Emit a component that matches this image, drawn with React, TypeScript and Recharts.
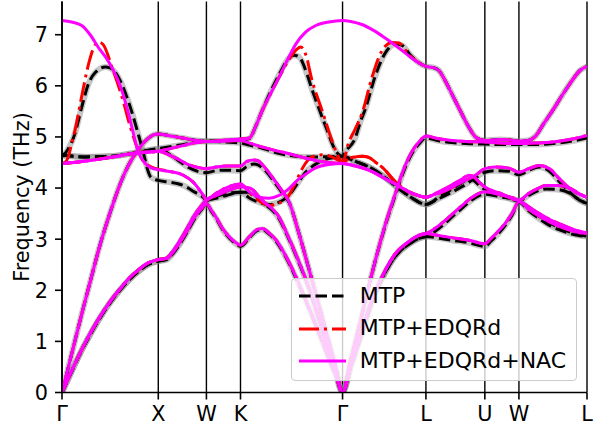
import React from 'react';
import { LineChart, Line, XAxis, YAxis, CartesianGrid, Legend } from 'recharts';

type Pt = [number, number];

// high-symmetry path (cumulative distance, 2π/a units)
const kTicks = [0, 1, 1.5, 1.854, 2.914, 3.78, 4.392, 4.746, 5.453];
const kLabels = ['Γ', 'X', 'W', 'K', 'Γ', 'L', 'U', 'W', 'L'];
const freqTicks = [0, 1, 2, 3, 4, 5, 6, 7];
const seriesNames = ['MTP', 'MTP+EDQRd', 'MTP+EDQRd+NAC'];

// ---------- MTP+EDQRd+NAC (magenta) segments ----------
const mTA_GX: Pt[] = [[0, 0], [0.1, 0.42], [0.2, 0.82], [0.3, 1.18], [0.4, 1.5], [0.5, 1.78], [0.6, 2.02], [0.7, 2.24], [0.8, 2.41], [0.9, 2.54], [1, 2.6]];
const mLA_GX: Pt[] = [[0, 0], [0.1, 0.75], [0.2, 1.5], [0.3, 2.22], [0.4, 2.92], [0.5, 3.52], [0.6, 4.06], [0.7, 4.48], [0.78, 4.72], [0.865, 4.92], [0.95, 5.04], [1, 5.06]];
const mTO_GX: Pt[] = [[0, 4.48], [0.25, 4.53], [0.5, 4.6], [0.75, 4.68], [1, 4.72]];
const mLO_GX: Pt[] = [[0, 7.28], [0.1, 7.25], [0.205, 7.18], [0.3, 6.98], [0.378, 6.75], [0.45, 6.57], [0.518, 6.36], [0.622, 5.91], [0.69, 5.46], [0.76, 4.93], [0.79, 4.72], [0.865, 4.48], [0.93, 4.39], [1, 4.36]];

const mLA_XW: Pt[] = [[1, 5.06], [1.1, 5.03], [1.25, 4.98], [1.4, 4.93], [1.5, 4.91]];
const mTOu_XW: Pt[] = [[1, 4.72], [1.1, 4.76], [1.25, 4.83], [1.4, 4.89], [1.5, 4.91]];
const mTOd_XW: Pt[] = [[1, 4.72], [1.1, 4.66], [1.2, 4.57], [1.3, 4.47], [1.42, 4.4], [1.5, 4.38]];
const mLO_XW: Pt[] = [[1, 4.36], [1.1, 4.33], [1.26, 4.25], [1.36, 4.12], [1.46, 3.88], [1.5, 3.77]];
const mTA1_XW: Pt[] = [[1, 2.6], [1.085, 2.62], [1.16, 2.76], [1.24, 2.98], [1.31, 3.2], [1.378, 3.43], [1.45, 3.6], [1.5, 3.7]];
const mTA2_XW: Pt[] = [[1, 2.6], [1.085, 2.63], [1.16, 2.79], [1.24, 3.02], [1.31, 3.25], [1.378, 3.48], [1.45, 3.66], [1.5, 3.77]];

const mLA_WK: Pt[] = [[1.5, 4.91], [1.6, 4.92], [1.7, 4.94], [1.854, 4.96]];
const mTOu_WK: Pt[] = [[1.5, 4.91], [1.6, 4.91], [1.7, 4.92], [1.854, 4.93]];
const mTOd_WK: Pt[] = [[1.5, 4.38], [1.6, 4.41], [1.7, 4.43], [1.854, 4.43]];
const mLO_WK: Pt[] = [[1.5, 3.77], [1.6, 3.9], [1.7, 4.0], [1.854, 4.08]];
const mTA2_WK: Pt[] = [[1.5, 3.77], [1.6, 3.85], [1.7, 3.93], [1.854, 4.02]];
const mTA1_WK: Pt[] = [[1.5, 3.7], [1.55, 3.57], [1.6, 3.43], [1.67, 3.2], [1.74, 3.04], [1.8, 2.94], [1.854, 2.88]];

const mLO_KG: Pt[] = [[1.854, 4.96], [1.947, 4.98], [2.01, 5.2], [2.08, 5.52], [2.17, 5.86], [2.255, 6.17], [2.34, 6.5], [2.43, 6.82], [2.53, 7.05], [2.636, 7.18], [2.77, 7.25], [2.914, 7.28]];
const mTO1_KG: Pt[] = [[1.854, 4.93], [1.95, 4.88], [2.08, 4.8], [2.25, 4.72], [2.36, 4.67], [2.5, 4.6], [2.633, 4.54], [2.77, 4.5], [2.914, 4.48]];
const mLA_KG: Pt[] = [[1.854, 4.43], [1.92, 4.52], [1.99, 4.55], [2.04, 4.53], [2.08, 4.46], [2.15, 4.3], [2.22, 4.12], [2.29, 3.93], [2.358, 3.73], [2.46, 3.12], [2.564, 2.42], [2.667, 1.72], [2.77, 1.0], [2.842, 0.5], [2.914, 0]];
const mTO2_KG: Pt[] = [[1.854, 4.08], [1.95, 3.92], [2.05, 3.82], [2.15, 3.8], [2.25, 3.85], [2.358, 3.99], [2.46, 4.18], [2.53, 4.27], [2.63, 4.39], [2.77, 4.46], [2.914, 4.48]];
const mTA1_KG: Pt[] = [[1.854, 2.88], [1.947, 3.05], [2.02, 3.18], [2.08, 3.21], [2.152, 3.12], [2.224, 2.98], [2.33, 2.65], [2.43, 2.26], [2.564, 1.66], [2.667, 1.18], [2.77, 0.68], [2.842, 0.34], [2.914, 0]];
const mTA2_KG: Pt[] = [[1.854, 4.02], [1.95, 4.0], [2.08, 3.76], [2.255, 3.43], [2.35, 3.05], [2.43, 2.7], [2.564, 2.05], [2.667, 1.45], [2.77, 0.85], [2.842, 0.43], [2.914, 0]];

const mLO_GL: Pt[] = [[2.914, 7.28], [3.0, 7.26], [3.115, 7.2], [3.24, 7.08], [3.36, 6.93], [3.45, 6.81], [3.533, 6.69], [3.62, 6.56], [3.707, 6.45], [3.78, 6.38]];
const mTO_GL: Pt[] = [[2.914, 4.48], [3.05, 4.43], [3.185, 4.35], [3.36, 4.18], [3.498, 4.04], [3.6, 3.93], [3.707, 3.85], [3.78, 3.82]];
const mLA_GL: Pt[] = [[2.914, 0], [3.0, 0.65], [3.1, 1.4], [3.22, 2.33], [3.36, 3.3], [3.464, 3.9], [3.56, 4.42], [3.637, 4.72], [3.707, 4.9], [3.78, 5.02]];
const mTA_GL: Pt[] = [[2.914, 0], [3.0, 0.52], [3.1, 1.1], [3.22, 1.81], [3.36, 2.4], [3.464, 2.72], [3.6, 2.95], [3.7, 3.07], [3.78, 3.11]];

const mLO_LU: Pt[] = [[3.78, 6.38], [3.85, 6.36], [3.915, 6.3], [3.98, 6.1], [4.05, 5.84], [4.14, 5.5], [4.226, 5.19], [4.3, 4.99], [4.392, 4.93]];
const mLA_LU: Pt[] = [[3.78, 5.02], [3.9, 4.97], [4.05, 4.93], [4.2, 4.91], [4.392, 4.9]];
const mTOa_LU: Pt[] = [[3.78, 3.82], [3.85, 3.86], [3.984, 3.95], [4.157, 4.12], [4.296, 4.25], [4.392, 4.38]];
const mTOb_LU: Pt[] = [[3.78, 3.82], [3.915, 3.93], [4.05, 4.06], [4.15, 4.17], [4.226, 4.25], [4.278, 4.22], [4.33, 4.12], [4.392, 4.02]];
const mTAa_LU: Pt[] = [[3.78, 3.11], [3.88, 3.22], [4.019, 3.43], [4.15, 3.65], [4.26, 3.82], [4.392, 3.93]];
const mTAb_LU: Pt[] = [[3.78, 3.11], [3.915, 3.07], [4.05, 3.03], [4.226, 2.98], [4.392, 2.91]];

const mLO_UW: Pt[] = [[4.392, 4.93], [4.55, 4.95], [4.65, 4.94], [4.746, 4.92]];
const mLA_UW: Pt[] = [[4.392, 4.9], [4.55, 4.88], [4.746, 4.87]];
const mTOa_UW: Pt[] = [[4.392, 4.38], [4.503, 4.41], [4.642, 4.39], [4.746, 4.31]];
const mTOb_UW: Pt[] = [[4.392, 4.02], [4.55, 3.9], [4.746, 3.76]];
const mTAa_UW: Pt[] = [[4.392, 3.93], [4.55, 3.87], [4.746, 3.76]];
const mTAb_UW: Pt[] = [[4.392, 2.91], [4.46, 3.02], [4.538, 3.17], [4.6, 3.3], [4.68, 3.52], [4.746, 3.73]];

const mLO_WL: Pt[] = [[4.746, 4.92], [4.84, 4.93], [4.92, 5.02], [5.0, 5.25], [5.097, 5.52], [5.19, 5.8], [5.274, 6.04], [5.38, 6.3], [5.453, 6.38]];
const mLA_WL: Pt[] = [[4.746, 4.87], [4.9, 4.88], [5.097, 4.9], [5.3, 4.96], [5.453, 5.03]];
const mTOa_WL: Pt[] = [[4.746, 4.31], [4.85, 4.38], [4.957, 4.44], [5.063, 4.38], [5.168, 4.18], [5.274, 3.99], [5.38, 3.87], [5.453, 3.82]];
const mTOb_WL: Pt[] = [[4.746, 3.76], [4.85, 3.9], [4.95, 4.0], [5.028, 4.05], [5.15, 4.05], [5.274, 4.0], [5.38, 3.88], [5.453, 3.82]];
const mTAa_WL: Pt[] = [[4.746, 3.76], [4.85, 3.63], [4.957, 3.5], [5.063, 3.39], [5.168, 3.3], [5.344, 3.17], [5.453, 3.12]];
const mTAb_WL: Pt[] = [[4.746, 3.73], [4.85, 3.58], [4.957, 3.45], [5.063, 3.34], [5.168, 3.25], [5.344, 3.14], [5.453, 3.11]];

// ---------- MTP (black) segments ----------
const bTA_GX: Pt[] = [[0, 0], [0.1, 0.41], [0.2, 0.81], [0.3, 1.16], [0.4, 1.48], [0.5, 1.76], [0.6, 2.0], [0.7, 2.21], [0.8, 2.38], [0.9, 2.51], [1, 2.57]];
const bTO_GX: Pt[] = [[0, 4.64], [0.25, 4.61], [0.5, 4.62], [0.7, 4.67], [0.85, 4.72], [1, 4.77]];
const bLO_GX: Pt[] = [[0, 4.62], [0.06, 4.75], [0.135, 5.07], [0.2, 5.55], [0.275, 6.04], [0.35, 6.27], [0.45, 6.37], [0.5, 6.35], [0.585, 6.17], [0.65, 5.9], [0.72, 5.52], [0.82, 4.87], [0.925, 4.21], [1, 4.15]];

const bTOu_XW: Pt[] = [[1, 4.77], [1.25, 4.85], [1.5, 4.92]];
const bTOd_XW: Pt[] = [[1, 4.77], [1.1, 4.68], [1.2, 4.55], [1.31, 4.41], [1.42, 4.32], [1.5, 4.3]];
const bLO_XW: Pt[] = [[1, 4.15], [1.1, 4.12], [1.26, 4.05], [1.38, 3.92], [1.467, 3.82], [1.5, 3.76]];
const bTA1_XW: Pt[] = [[1, 2.57], [1.085, 2.6], [1.16, 2.74], [1.24, 2.95], [1.31, 3.17], [1.378, 3.4], [1.45, 3.58], [1.5, 3.69]];
const bTA2_XW: Pt[] = [[1, 2.57], [1.085, 2.61], [1.16, 2.76], [1.24, 2.99], [1.31, 3.22], [1.378, 3.45], [1.45, 3.64], [1.5, 3.76]];

const bLA_WK: Pt[] = [[1.5, 4.92], [1.7, 4.93], [1.854, 4.94]];
const bTOu_WK: Pt[] = [[1.5, 4.92], [1.7, 4.9], [1.854, 4.88]];
const bTOd_WK: Pt[] = [[1.5, 4.3], [1.6, 4.34], [1.7, 4.35], [1.854, 4.34]];
const bLO_WK: Pt[] = [[1.5, 3.76], [1.6, 3.84], [1.7, 3.89], [1.854, 3.92]];
const bTA2_WK: Pt[] = [[1.5, 3.76], [1.6, 3.8], [1.7, 3.85], [1.854, 3.92]];
const bTA1_WK: Pt[] = [[1.5, 3.69], [1.55, 3.55], [1.6, 3.41], [1.67, 3.18], [1.74, 3.02], [1.8, 2.92], [1.854, 2.86]];

const bLO_KG: Pt[] = [[1.854, 4.94], [1.947, 4.97], [2.01, 5.2], [2.08, 5.52], [2.17, 5.9], [2.255, 6.22], [2.36, 6.55], [2.41, 6.6], [2.46, 6.57], [2.55, 6.2], [2.6, 5.91], [2.67, 5.55], [2.74, 5.2], [2.84, 4.74], [2.914, 4.62]];
const bTO1_KG: Pt[] = [[1.854, 4.88], [1.95, 4.84], [2.08, 4.78], [2.25, 4.68], [2.36, 4.64], [2.55, 4.61], [2.7, 4.61], [2.914, 4.62]];
const bLA_KG: Pt[] = [[1.854, 4.34], [1.92, 4.42], [1.99, 4.47], [2.04, 4.45], [2.08, 4.4], [2.15, 4.26], [2.22, 4.08], [2.29, 3.9], [2.358, 3.72], [2.46, 3.12], [2.564, 2.42], [2.667, 1.72], [2.77, 1.0], [2.842, 0.5], [2.914, 0]];
const bTO2_KG: Pt[] = [[1.854, 3.92], [1.95, 3.8], [2.05, 3.72], [2.15, 3.68], [2.25, 3.72], [2.358, 3.86], [2.45, 4.1], [2.53, 4.31], [2.62, 4.45], [2.7, 4.54], [2.8, 4.59], [2.914, 4.61]];
const bTA1_KG: Pt[] = [[1.854, 2.86], [1.947, 3.03], [2.02, 3.16], [2.08, 3.19], [2.152, 3.1], [2.224, 2.96], [2.33, 2.63], [2.43, 2.24], [2.564, 1.65], [2.667, 1.17], [2.77, 0.67], [2.842, 0.34], [2.914, 0]];
const bTA2_KG: Pt[] = [[1.854, 3.92], [1.95, 3.92], [2.08, 3.72], [2.255, 3.4], [2.35, 3.03], [2.43, 2.68], [2.564, 2.04], [2.667, 1.44], [2.77, 0.85], [2.842, 0.43], [2.914, 0]];

const bLO_GL: Pt[] = [[2.914, 4.62], [2.942, 4.71], [3.046, 4.98], [3.1, 5.3], [3.151, 5.55], [3.255, 6.2], [3.36, 6.65], [3.464, 6.82], [3.533, 6.79], [3.62, 6.6], [3.707, 6.45], [3.78, 6.38]];
const bTO_GL: Pt[] = [[2.914, 4.61], [3.05, 4.52], [3.22, 4.38], [3.36, 4.2], [3.498, 3.99], [3.64, 3.8], [3.78, 3.68]];
const bLA_GL: Pt[] = [[2.914, 0], [3.0, 0.65], [3.1, 1.4], [3.22, 2.33], [3.36, 3.28], [3.464, 3.87], [3.56, 4.38], [3.637, 4.68], [3.707, 4.86], [3.78, 4.98]];
const bTA_GL: Pt[] = [[2.914, 0], [3.0, 0.51], [3.1, 1.08], [3.22, 1.78], [3.36, 2.36], [3.464, 2.67], [3.6, 2.9], [3.7, 3.01], [3.78, 3.05]];

const bLA_LU: Pt[] = [[3.78, 4.98], [3.9, 4.93], [4.05, 4.89], [4.2, 4.87], [4.392, 4.86]];
const bTOa_LU: Pt[] = [[3.78, 3.68], [3.9, 3.78], [4.05, 3.92], [4.157, 4.03], [4.28, 4.18], [4.392, 4.31]];
const bTOb_LU: Pt[] = [[3.78, 3.68], [3.915, 3.82], [4.05, 3.98], [4.15, 4.1], [4.226, 4.18], [4.278, 4.15], [4.33, 4.06], [4.392, 3.97]];
const bTAa_LU: Pt[] = [[3.78, 3.05], [3.88, 3.16], [4.019, 3.38], [4.15, 3.6], [4.26, 3.77], [4.392, 3.88]];
const bTAb_LU: Pt[] = [[3.78, 3.05], [3.915, 3.02], [4.05, 2.98], [4.226, 2.93], [4.392, 2.86]];

const bLA_UW: Pt[] = [[4.392, 4.86], [4.55, 4.85], [4.746, 4.85]];
const bTOa_UW: Pt[] = [[4.392, 4.31], [4.503, 4.34], [4.642, 4.33], [4.746, 4.26]];
const bTOb_UW: Pt[] = [[4.392, 3.97], [4.55, 3.87], [4.746, 3.75]];
const bTAa_UW: Pt[] = [[4.392, 3.88], [4.55, 3.83], [4.746, 3.75]];
const bTAb_UW: Pt[] = [[4.392, 2.86], [4.46, 2.97], [4.538, 3.12], [4.6, 3.26], [4.68, 3.49], [4.746, 3.72]];

const bLA_WL: Pt[] = [[4.746, 4.85], [4.9, 4.85], [5.097, 4.87], [5.3, 4.92], [5.453, 4.98]];
const bTOa_WL: Pt[] = [[4.746, 4.26], [4.85, 4.35], [4.957, 4.41], [5.063, 4.33], [5.168, 4.12], [5.274, 3.92], [5.38, 3.76], [5.453, 3.7]];
const bTOb_WL: Pt[] = [[4.746, 3.75], [4.85, 3.86], [4.95, 3.95], [5.028, 3.98], [5.15, 3.97], [5.274, 3.9], [5.38, 3.76], [5.453, 3.7]];
const bTAa_WL: Pt[] = [[4.746, 3.75], [4.85, 3.6], [4.957, 3.45], [5.063, 3.32], [5.168, 3.22], [5.344, 3.1], [5.453, 3.06]];
const bTAb_WL: Pt[] = [[4.746, 3.72], [4.85, 3.55], [4.957, 3.4], [5.063, 3.27], [5.168, 3.18], [5.344, 3.08], [5.453, 3.05]];

// ---------- MTP+EDQRd (red) segments that differ from NAC ----------
const rLO_GX: Pt[] = [[0, 4.48], [0.03, 4.5], [0.066, 4.61], [0.1, 4.87], [0.135, 5.13], [0.2, 5.75], [0.275, 6.42], [0.33, 6.75], [0.38, 6.86], [0.43, 6.8], [0.52, 6.36], [0.62, 5.8], [0.72, 5.13], [0.83, 4.57], [0.93, 4.41], [1, 4.37]];
const rLO_KG: Pt[] = [[1.854, 4.96], [1.947, 4.98], [2.01, 5.2], [2.08, 5.52], [2.17, 5.86], [2.255, 6.17], [2.36, 6.52], [2.43, 6.7], [2.48, 6.76], [2.53, 6.62], [2.598, 6.1], [2.701, 5.52], [2.804, 4.93], [2.873, 4.6], [2.914, 4.51]];
const rTO2_KG: Pt[] = [[1.854, 4.08], [1.95, 3.9], [2.05, 3.75], [2.15, 3.66], [2.25, 3.7], [2.358, 3.86], [2.43, 4.12], [2.495, 4.38], [2.598, 4.61], [2.701, 4.65], [2.804, 4.61], [2.914, 4.51]];
const rLO_GL: Pt[] = [[2.914, 4.51], [2.94, 4.62], [2.959, 4.77], [3.046, 5.16], [3.115, 5.45], [3.22, 6.17], [3.324, 6.69], [3.428, 6.85], [3.498, 6.84], [3.6, 6.62], [3.707, 6.45], [3.78, 6.38]];
const rTO_GL: Pt[] = [[2.914, 4.51], [2.98, 4.58], [3.046, 4.61], [3.12, 4.62], [3.185, 4.6], [3.26, 4.5], [3.324, 4.41], [3.464, 4.12], [3.6, 3.93], [3.707, 3.85], [3.78, 3.82]];

type Row = { k: number; f: number };
function join(...segs: Pt[][]): Row[] {
  const out: Row[] = [];
  for (const s of segs) {
    for (const p of s) {
      if (out.length && Math.abs(out[out.length - 1].k - p[0]) < 1e-9) continue;
      out.push({ k: p[0], f: p[1] });
    }
  }
  return out;
}

const magentaBands: Row[][] = [
  join(mTA_GX, mTA1_XW, mTA1_WK, mTA1_KG, mTA_GL, mTAb_LU, mTAb_UW, mTAb_WL),
  join(mTA_GX, mTA2_XW, mTA2_WK, mTA2_KG, mTA_GL, mTAa_LU, mTAa_UW, mTAa_WL),
  join(mLA_GX, mLA_XW, mLA_WK, mLO_KG, mLO_GL, mLO_LU, mLO_UW, mLO_WL),
  join(mTO_GX, mTOu_XW, mTOu_WK, mTO1_KG, mTO_GL, mTOa_LU, mTOa_UW, mTOa_WL),
  join(mTO_GX, mTOd_XW, mTOd_WK, mLA_KG, mLA_GL, mLA_LU, mLA_UW, mLA_WL),
  join(mLO_GX, mLO_XW, mLO_WK, mTO2_KG, mTO_GL, mTOb_LU, mTOb_UW, mTOb_WL),
];

const redBands: Row[][] = [
  join(mTA_GX, mTA1_XW, mTA1_WK, mTA1_KG, mTA_GL, mTAb_LU, mTAb_UW, mTAb_WL),
  join(mTA_GX, mTA2_XW, mTA2_WK, mTA2_KG, mTA_GL, mTAa_LU, mTAa_UW, mTAa_WL),
  join(mLA_GX, mLA_XW, mLA_WK, rLO_KG, rLO_GL, mLO_LU, mLO_UW, mLO_WL),
  join(mTO_GX, mTOu_XW, mTOu_WK, mTO1_KG, rTO_GL, mTOa_LU, mTOa_UW, mTOa_WL),
  join(mTO_GX, mTOd_XW, mTOd_WK, mLA_KG, mLA_GL, mLA_LU, mLA_UW, mLA_WL),
  join(rLO_GX, mLO_XW, mLO_WK, rTO2_KG, rTO_GL, mTOb_LU, mTOb_UW, mTOb_WL),
];

const blackBands: Row[][] = [
  join(bTA_GX, bTA1_XW, bTA1_WK, bTA1_KG, bTA_GL, bTAb_LU, bTAb_UW, bTAb_WL),
  join(bTA_GX, bTA2_XW, bTA2_WK, bTA2_KG, bTA_GL, bTAa_LU, bTAa_UW, bTAa_WL),
  join(mLA_GX, mLA_XW, bLA_WK, bLO_KG, bLO_GL, mLO_LU, mLO_UW, mLO_WL),
  join(bTO_GX, bTOu_XW, bTOu_WK, bTO1_KG, bTO_GL, bTOa_LU, bTOa_UW, bTOa_WL),
  join(bTO_GX, bTOd_XW, bTOd_WK, bLA_KG, bLA_GL, bLA_LU, bLA_UW, bLA_WL),
  join(bLO_GX, bLO_XW, bLO_WK, bTO2_KG, bTO_GL, bTOb_LU, bTOb_UW, bTOb_WL),
];

const FONT = 'DejaVu Sans';
const legendStyles = [
  { color: '#000000', dash: '11.5 5' },
  { color: '#ff0000', dash: '20 5 3 5' },
  { color: '#ff00ff', dash: undefined as string | undefined },
];

const renderLegend = () => (
  <div
    style={{
      width: 286,
      height: 103,
      boxSizing: 'border-box',
      background: 'rgba(255,255,255,0.8)',
      border: '1px solid #cccccc',
      borderRadius: 4,
      position: 'relative',
      fontFamily: FONT,
      fontSize: 22,
      color: '#000',
    }}
  >
    {seriesNames.map((name, i) => (
      <div
        key={name}
        style={{ position: 'absolute', left: 0, top: 0.5 + i * 32.6, height: 32.6, display: 'flex', alignItems: 'center' }}
      >
        <svg width={54} height={10} style={{ display: 'block' }}>
          <line x1={7} y1={5} x2={54} y2={5} stroke={legendStyles[i].color} strokeWidth={3} strokeDasharray={legendStyles[i].dash} />
        </svg>
        <span style={{ marginLeft: 14, lineHeight: '32.6px', whiteSpace: 'nowrap' }}>{name}</span>
      </div>
    ))}
  </div>
);

export default function App() {
  return (
    <div style={{ position: 'absolute', left: 0, top: 0, width: 603, height: 427, background: '#fff' }}>
      <LineChart width={603} height={427} margin={{ top: 1.5, right: 16, bottom: 0, left: 0 }}>
        <CartesianGrid horizontal={false} vertical={true} stroke="#000" strokeWidth={1.4} strokeDasharray="" />
        <XAxis
          type="number"
          dataKey="k"
          domain={[0, 5.453]}
          ticks={kTicks}
          interval={0}
          allowDataOverflow
          height={34.5}
          tickSize={7}
          tickMargin={7}
          tickFormatter={(v: number) => {
            const i = kTicks.findIndex((t) => Math.abs(t - v) < 1e-6);
            return i >= 0 ? kLabels[i] : '';
          }}
          tick={{ fill: '#000', fontSize: 20.8, fontFamily: FONT }}
          tickLine={{ stroke: '#000', strokeWidth: 1.6 }}
          axisLine={{ stroke: '#000', strokeWidth: 1.7 }}
        />
        <XAxis
          xAxisId="top"
          orientation="top"
          type="number"
          domain={[0, 5.453]}
          height={0}
          tick={false}
          tickLine={false}
          axisLine={{ stroke: '#000', strokeWidth: 1.7 }}
        />
        <YAxis
          type="number"
          domain={[0, 7.65]}
          ticks={freqTicks}
          interval={0}
          allowDataOverflow
          width={62}
          tickSize={7}
          tickMargin={7}
          tick={{ fill: '#000', fontSize: 20.8, fontFamily: FONT }}
          tickLine={{ stroke: '#000', strokeWidth: 1.6 }}
          axisLine={{ stroke: '#000', strokeWidth: 1.7 }}
          label={{ value: 'Frequency (THz)', angle: -90, position: 'center', dx: -9.5, style: { fill: '#000', fontSize: 20.8, fontFamily: FONT } }}
        />
        <YAxis
          yAxisId="right"
          orientation="right"
          type="number"
          domain={[0, 7.65]}
          width={0}
          tick={false}
          tickLine={false}
          axisLine={{ stroke: '#000', strokeWidth: 1.7 }}
        />
        {blackBands.map((d, i) => (
          <Line key={'g' + i} data={d} dataKey="f" type="monotone" stroke="#808080" strokeOpacity={0.45} strokeWidth={6} dot={false} activeDot={false} isAnimationActive={false} legendType="none" />
        ))}
        {blackBands.map((d, i) => (
          <Line key={'b' + i} data={d} dataKey="f" name={seriesNames[0]} type="monotone" stroke="#000" strokeWidth={3} strokeDasharray="11.5 5" dot={false} activeDot={false} isAnimationActive={false} />
        ))}
        {redBands.map((d, i) => (
          <Line key={'r' + i} data={d} dataKey="f" name={seriesNames[1]} type="monotone" stroke="#ff0000" strokeWidth={3} strokeDasharray="20 5 3 5" dot={false} activeDot={false} isAnimationActive={false} />
        ))}
        {magentaBands.map((d, i) => (
          <Line key={'m' + i} data={d} dataKey="f" name={seriesNames[2]} type="monotone" stroke="#ff00ff" strokeWidth={3} dot={false} activeDot={false} isAnimationActive={false} />
        ))}
        <Legend layout="vertical" align="center" verticalAlign="middle" content={renderLegend} wrapperStyle={{ left: 290.7, top: 278.3, width: 286, height: 103 }} />
      </LineChart>
    </div>
  );
}
